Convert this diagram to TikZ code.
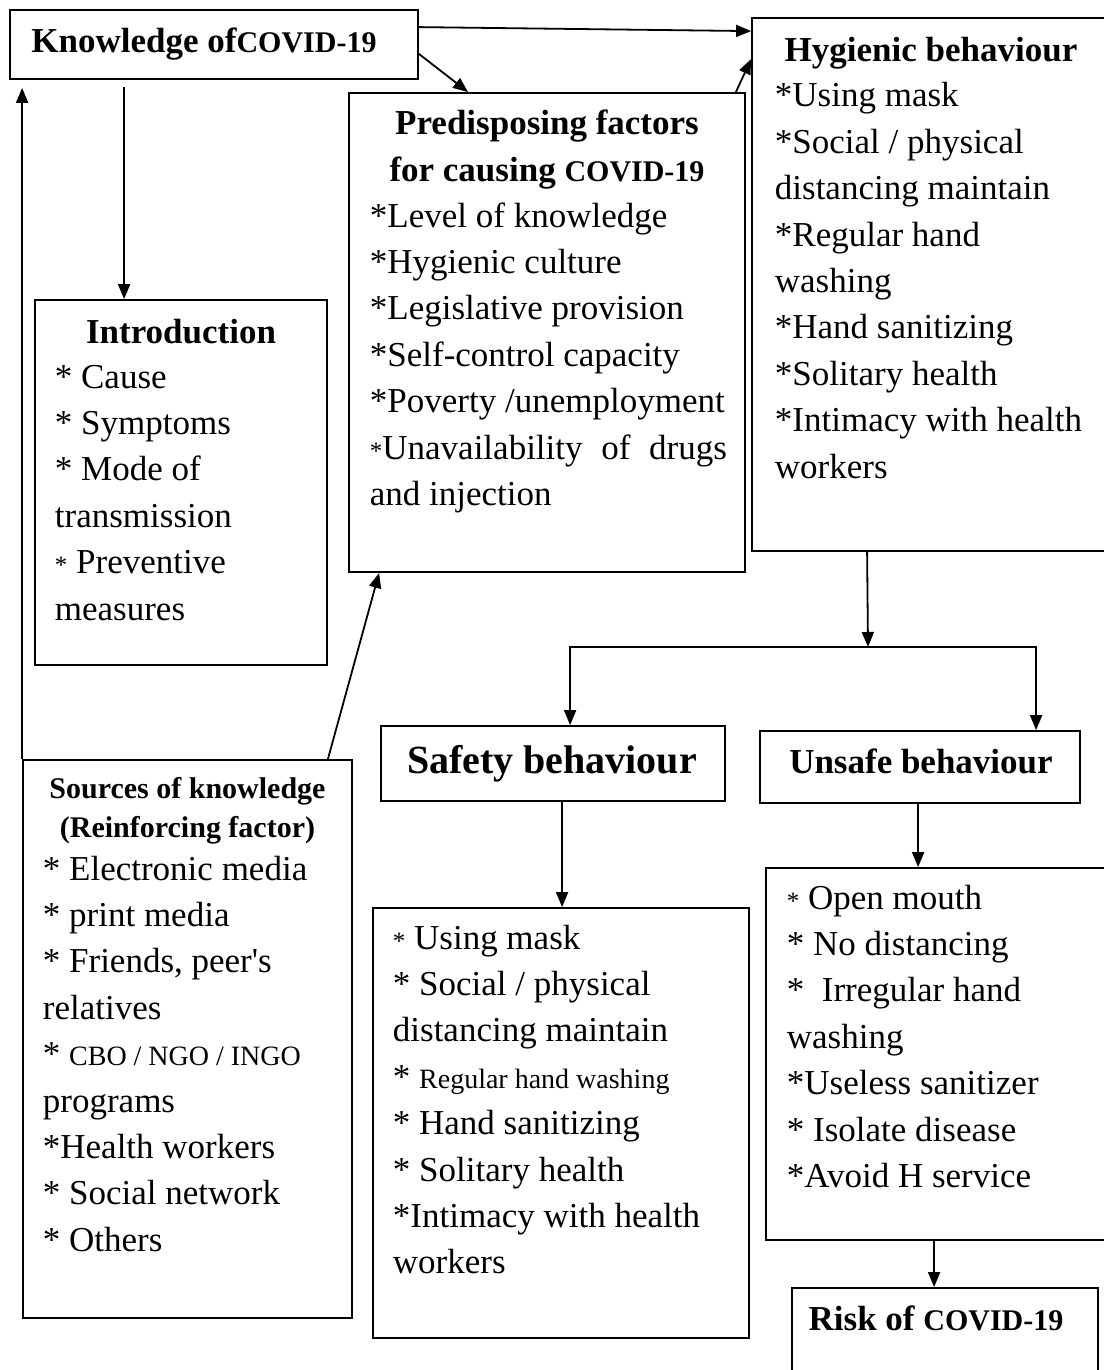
\documentclass[tikz,border=0pt]{standalone}
\usepackage{fontspec}
\setmainfont{Liberation Serif}
\usetikzlibrary{positioning,arrows.meta,fit}

\newcommand\covid{{\fontsize{30}{30}\selectfont COVID-19}}
\newcommand\sstar{{\fontsize{25}{25}\selectfont *}}

\tikzset{
  box/.style={draw, inner sep=0pt},
  head/.style={font=\fontsize{35}{46.4}\selectfont\bfseries, anchor=base, align=flush center, text width=380pt, inner sep=0pt},
  items/.style={font=\fontsize{35}{46.4}\selectfont, anchor=base west, align=flush left, text width=380pt, inner sep=0pt},
}

\begin{document}
\begin{tikzpicture}[x=1pt, y=-1pt, line width=1.8pt, > = {Triangle[length=15pt,width=12pt]}]
\useasboundingbox (0,0) rectangle (1103,1370);

% boxes
\node (kn) [box, fit={(10,10) (418,79)}] {};
\node (hyg) [box, fit={(752,18) (1108,551)}] {};
\node (pre) [box, fit={(349,93) (745,572)}] {};
\node (intro) [box, fit={(35,300) (327,665)}] {};
\node (src) [box, fit={(23,760) (352,1318)}] {};
\node (safe) [box, fit={(381,726) (725,801)}] {};
\node (unsafe) [box, fit={(760,731) (1080,803)}] {};
\node (safelist) [box, fit={(373,908) (749,1338)}] {};
\node (unsafelist) [box, fit={(766,868) (1108,1240)}] {};
\node (risk) [box, fit={(792,1288) (1098,1380)}] {};

% titles
\node (knt) [head] at (204,53) {Knowledge of\covid};
\node (hygt) [head] at (931,62) {Hygienic behaviour};
\node (pret) [head] at (547,135) {Predisposing factors\\ for causing \covid};
\node (introt) [head] at (181,343) {Introduction};
\node (srct) [head, font=\fontsize{30}{39}\selectfont\bfseries] at (187.5,798) {Sources of knowledge\\ (Reinforcing factor)};
\node (safet) [head, font=\fontsize{40}{46}\selectfont\bfseries] at (552,773) {Safety behaviour};
\node (unsafet) [head] at (921,773) {Unsafe behaviour};
\node (riskt) [head] at (936,1330) {Risk of \covid};

% lists
\node (hygl) [items] at (774,107) {*Using mask\\{}*Social / physical\\ distancing maintain\\{}*Regular hand\\ washing\\{}*Hand sanitizing\\{}*Solitary health\\{}*Intimacy with health\\ workers};
\node (prel) [items] at (369,227) {*Level of knowledge\\{}*Hygienic culture\\{}*Legislative provision\\{}*Self-control capacity\\{}*Poverty /unemployment\\ \leavevmode\hbox to 357pt{\sstar Unavailability\hfill of\hfill drugs}\\ and injection};
\node (introl) [items] at (54,388) {* Cause\\{}* Symptoms\\{}* Mode of\\ transmission\\ \sstar{} Preventive\\ measures};
\node (srcl) [items] at (42,880) {* Electronic media\\{}* print media\\{}* Friends, peer\textquotesingle s\\ relatives\\{}* {\fontsize{28}{28}\selectfont CBO / NGO / INGO}\\ programs\\{}*Health workers\\{}* Social network\\{}* Others};
\node (safel) [items] at (392,949) {\sstar{} Using mask\\{}* Social / physical\\ distancing maintain\\{}* {\fontsize{28}{28}\selectfont Regular hand washing}\\{}* Hand sanitizing\\{}* Solitary health\\{}*Intimacy with health\\ workers};
\node (unsafel) [items] at (786,909) {\sstar{} Open mouth\\{}* No distancing\\{}*~ Irregular hand\\ washing\\{}*Useless sanitizer\\{}* Isolate disease\\{}*Avoid H service};

% connectors
\draw[->] ([yshift=-18pt]kn.north east) -- ([yshift=-14pt]hyg.north west);
\draw[->] ([yshift=26pt]kn.south east) -- ([xshift=120pt]pre.north west);
\draw[->] ([xshift=-10pt]pre.north east) -- ([yshift=-42pt]hyg.north west);
\draw[->] ([shift={(115pt,-7pt)}]kn.south west) -- ([xshift=90pt]intro.north west);
\draw[->] (src.north west) -- ([shift={(13pt,-8pt)}]kn.south west);
\draw[->] ([xshift=-25pt]src.north east) -- ([xshift=31pt]pre.south west);

\coordinate (fork) at (868,647);
\draw[->] ([xshift=116pt]hyg.south west) -- (fork);
\draw[->] (fork) -| ([xshift=190pt]safe.north west);
\draw[->] (fork) -| ([xshift=277pt]unsafe.north west);

\draw[->] ([xshift=182pt]safe.south west) -- ([xshift=190pt]safelist.north west);
\draw[->] ([xshift=159pt]unsafe.south west) -- ([xshift=153pt]unsafelist.north west);
\draw[->] ([xshift=169pt]unsafelist.south west) -- ([xshift=143pt]risk.north west);
\end{tikzpicture}
\end{document}
